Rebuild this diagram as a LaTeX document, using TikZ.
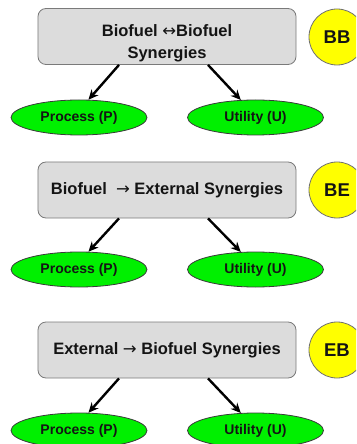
\documentclass[tikz,border=0pt]{standalone}
\usepackage{fontspec}
\setmainfont{Liberation Sans}
\newfontfamily\arrowfont{DejaVu Sans}
\usetikzlibrary{shapes.geometric,arrows.meta,calc}
\definecolor{boxfill}{HTML}{DCDCDC}
\definecolor{boxborder}{HTML}{7A7A7A}
\definecolor{ellgreen}{HTML}{00F000}
\definecolor{ellborder}{HTML}{3A3A3A}
\definecolor{tagyellow}{HTML}{FFFF00}
\definecolor{tagborder}{HTML}{707070}
\definecolor{textdark}{HTML}{141414}
\newcommand{\rarr}{{\arrowfont\mdseries →}}
\newcommand{\lrarr}{{\arrowfont\mdseries ↔}}
\begin{document}
\begin{tikzpicture}[x=1bp,y=-1bp,
  synbox/.style={draw=boxborder, fill=boxfill, rounded corners=8bp, minimum width=258bp, minimum height=56bp, inner sep=0pt, align=center, text=textdark, line width=0.8bp, font=\fontsize{16.5bp}{22bp}\selectfont\bfseries},
  kind/.style={ellipse, draw=ellborder, fill=ellgreen, minimum width=136bp, minimum height=35bp, inner sep=0pt, line width=0.8bp, text=textdark, font=\fontsize{14bp}{16bp}\selectfont\bfseries},
  tag/.style={circle, draw=tagborder, fill=tagyellow, minimum size=56bp, inner sep=0pt, line width=0.8bp, text=textdark, font=\fontsize{18.5bp}{20bp}\selectfont\bfseries},
  arr/.style={-{Stealth[length=10bp,width=9bp]}, line width=2.4bp, black}]
\useasboundingbox (0,0) rectangle (356,444);
\clip (0,0) rectangle (356,444);
% section 1
\node[synbox] (b1) at (167,36.5) {\raisebox{-7bp}[\height][\depth]{\begin{tabular}{@{}c@{}}Biofuel \lrarr Biofuel\\Synergies\end{tabular}}};
\node[tag] (t1) at (337,37) {BB};
\node[kind] (p1) at (79,117.5) {Process (P)};
\node[kind] (u1) at (255.5,117.5) {Utility (U)};
\coordinate (b1l) at ($(b1.south)+(-48,0)$);
\coordinate (b1r) at ($(b1.south)+(41,0)$);
\draw[arr] (b1l) -- (p1.62);
\draw[arr] (b1r) -- (u1.130);
% section 2
\node[synbox] (b2) at (167,190) {Biofuel \ \rarr\ External Synergies};
\node[tag] (t2) at (337,190) {BE};
\node[kind] (p2) at (79,269.5) {Process (P)};
\node[kind] (u2) at (255.5,269.5) {Utility (U)};
\coordinate (b2l) at ($(b2.south)+(-48,0)$);
\coordinate (b2r) at ($(b2.south)+(41,0)$);
\draw[arr] (b2l) -- (p2.62);
\draw[arr] (b2r) -- (u2.130);
% section 3
\node[synbox] (b3) at (167,350) {External \rarr\ Biofuel Synergies};
\node[tag] (t3) at (337,350) {EB};
\node[kind] (p3) at (79,430.5) {Process (P)};
\node[kind] (u3) at (255.5,430.5) {Utility (U)};
\coordinate (b3l) at ($(b3.south)+(-48,0)$);
\coordinate (b3r) at ($(b3.south)+(41,0)$);
\draw[arr] (b3l) -- (p3.62);
\draw[arr] (b3r) -- (u3.130);
\end{tikzpicture}
\end{document}
